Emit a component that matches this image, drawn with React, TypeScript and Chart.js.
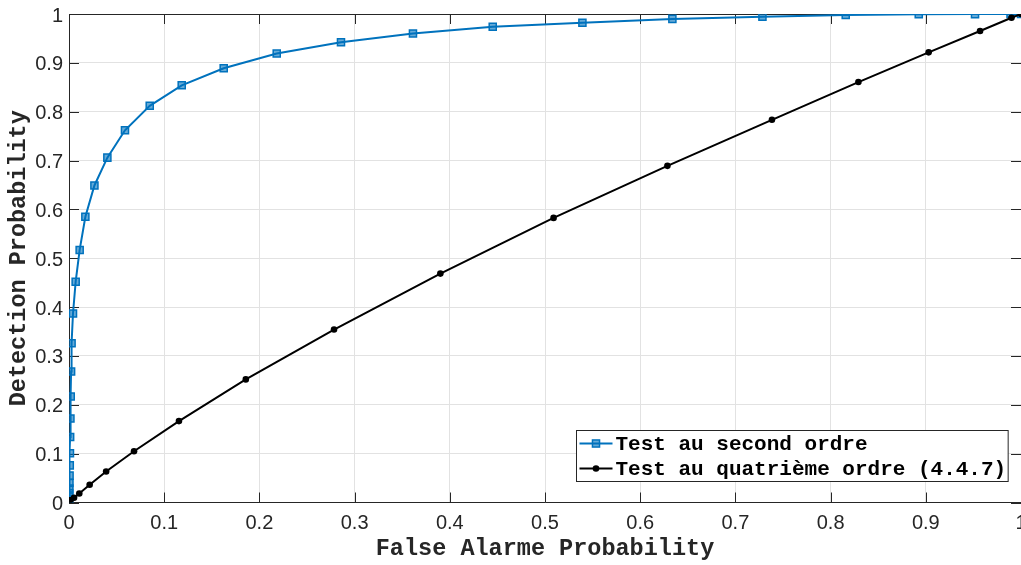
import React, { useEffect, useRef } from 'react';
import { Chart, registerables } from 'chart.js';

Chart.register(...registerables);

// ---- data ----
const secondOrderX = [0, 0.0001, 0.0002, 0.0003, 0.0004, 0.0005, 0.0006, 0.0008, 0.001, 0.0012, 0.0015, 0.0018, 0.0022, 0.0027, 0.0042, 0.007, 0.0112, 0.0172, 0.0267, 0.0403, 0.0588, 0.0848, 0.1184, 0.1625, 0.2182, 0.2857, 0.3613, 0.4451, 0.5393, 0.6338, 0.7284, 0.8159, 0.8926, 0.9517, 0.989, 1.0];
const secondOrderY = [0, 0.006, 0.012, 0.0195, 0.0287, 0.04, 0.055, 0.076, 0.101, 0.134, 0.172, 0.217, 0.268, 0.326, 0.387, 0.452, 0.517, 0.585, 0.649, 0.706, 0.762, 0.812, 0.854, 0.889, 0.919, 0.942, 0.96, 0.974, 0.982, 0.99, 0.9945, 0.998, 0.9994, 0.9998, 1.0, 1.0];

const fourthOrderX = [0, 0.0015, 0.0053, 0.0108, 0.0217, 0.039, 0.0683, 0.1155, 0.1857, 0.2784, 0.3901, 0.509, 0.6286, 0.7384, 0.8292, 0.903, 0.957, 0.99, 1.0];
const fourthOrderY = [0, 0.0047, 0.0096, 0.0184, 0.0363, 0.0635, 0.105, 0.1666, 0.252, 0.354, 0.4686, 0.5826, 0.6891, 0.7834, 0.8607, 0.9215, 0.9652, 0.9924, 1.0];

const seriesNames = ['Test au second ordre', 'Test au quatrième ordre (4.4.7)'];

const xTicks = [0, 0.1, 0.2, 0.3, 0.4, 0.5, 0.6, 0.7, 0.8, 0.9, 1];
const xTickLabels = ['0', '0.1', '0.2', '0.3', '0.4', '0.5', '0.6', '0.7', '0.8', '0.9', '1'];
const yTicks = [0, 0.1, 0.2, 0.3, 0.4, 0.5, 0.6, 0.7, 0.8, 0.9, 1];
const yTickLabels = ['0', '0.1', '0.2', '0.3', '0.4', '0.5', '0.6', '0.7', '0.8', '0.9', '1'];

const xTitle = 'False Alarme Probability';
const yTitle = 'Detection Probability';

// ---- styles ----
const AXIS = '#262626';
const GRID = '#e2e2e2';
const BLUE = '#0072BD';
const TICK_FONT = "'Liberation Sans', Arial, sans-serif";
const MONO_FONT = "'Liberation Mono', 'Courier New', monospace";

const boxPlugin = {
  id: 'matlabBox',
  beforeDatasetsDraw(chart: any) {
    const { ctx, chartArea: a, scales } = chart;
    const al = (v: number) => Math.round(v) + 0.5;
    ctx.save();
    ctx.strokeStyle = AXIS;
    ctx.lineWidth = 1;
    ctx.beginPath();
    // top and right borders
    ctx.moveTo(a.left, al(a.top));
    ctx.lineTo(a.right, al(a.top));
    ctx.moveTo(al(a.right), a.top);
    ctx.lineTo(al(a.right), a.bottom);
    // inward ticks
    const tl = 10;
    for (const v of xTicks) {
      const px = al(scales.x.getPixelForValue(v));
      ctx.moveTo(px, a.bottom);
      ctx.lineTo(px, a.bottom - tl);
      ctx.moveTo(px, a.top);
      ctx.lineTo(px, a.top + tl);
    }
    for (const v of yTicks) {
      const py = al(scales.y.getPixelForValue(v));
      ctx.moveTo(a.left, py);
      ctx.lineTo(a.left + tl, py);
      ctx.moveTo(a.right, py);
      ctx.lineTo(a.right - tl, py);
    }
    ctx.stroke();
    ctx.restore();
  },
};

const legendPlugin = {
  id: 'matlabLegend',
  afterDraw(chart: any) {
    const { ctx, chartArea: a } = chart;
    const ds = chart.data.datasets;
    ctx.save();
    ctx.font = `bold 21px ${MONO_FONT}`;
    const widths = ds.map((d: any) => ctx.measureText(d.label).width);
    const maxW = Math.max(...widths);
    const padL = 3, lineLen = 33, gap = 3, padR = 2;
    const boxW = padL + lineLen + gap + maxW + padR;
    const boxH = 51;
    const right = a.right - 13.5;
    const bottom = a.bottom - 21.5;
    const left = Math.round(right - boxW) + 0.5;
    const top = Math.round(bottom - boxH) + 0.5;
    ctx.fillStyle = '#ffffff';
    ctx.fillRect(left, top, boxW, boxH);
    ctx.strokeStyle = AXIS;
    ctx.lineWidth = 1;
    ctx.strokeRect(left, top, boxW, boxH);
    ds.forEach((d: any, i: number) => {
      const cy = top + 13 + i * 25;
      const x0 = left + padL;
      const x1 = x0 + lineLen;
      ctx.strokeStyle = d.borderColor;
      ctx.lineWidth = d.borderWidth;
      ctx.beginPath();
      ctx.moveTo(x0, cy);
      ctx.lineTo(x1, cy);
      ctx.stroke();
      const cx = (x0 + x1) / 2;
      if (d.pointStyle === 'rect') {
        const s = d.pointRadius * Math.SQRT1_2;
        ctx.fillStyle = d.pointBackgroundColor;
        ctx.fillRect(cx - s, cy - s, 2 * s, 2 * s);
        ctx.lineWidth = d.pointBorderWidth;
        ctx.strokeStyle = d.pointBorderColor;
        ctx.strokeRect(cx - s, cy - s, 2 * s, 2 * s);
      } else {
        ctx.fillStyle = d.pointBackgroundColor;
        ctx.beginPath();
        ctx.arc(cx, cy, d.pointRadius, 0, Math.PI * 2);
        ctx.fill();
      }
      ctx.fillStyle = '#000000';
      ctx.textBaseline = 'middle';
      ctx.textAlign = 'left';
      ctx.fillText(d.label, x1 + gap, cy + 1);
    });
    ctx.restore();
  },
};

export default function App() {
  const canvasRef = useRef<HTMLCanvasElement | null>(null);

  useEffect(() => {
    if (!canvasRef.current) return;
    const chart = new Chart(canvasRef.current, {
      type: 'scatter',
      data: {
        datasets: [
          {
            label: seriesNames[0],
            data: secondOrderX.map((x, i) => ({ x, y: secondOrderY[i] })),
            showLine: true,
            borderColor: BLUE,
            borderWidth: 2,
            pointStyle: 'rect',
            pointRadius: 5,
            pointBorderColor: BLUE,
            pointBackgroundColor: 'rgba(0,114,189,0.6)',
            pointBorderWidth: 1.5,
            order: 1,
          },
          {
            label: seriesNames[1],
            data: fourthOrderX.map((x, i) => ({ x, y: fourthOrderY[i] })),
            showLine: true,
            borderColor: '#000000',
            borderWidth: 2,
            pointStyle: 'circle',
            pointRadius: 3.3,
            pointBorderColor: '#000000',
            pointBackgroundColor: '#000000',
            pointBorderWidth: 0,
            order: 0,
          },
        ] as any,
      },
      options: {
        animation: false,
        responsive: false,
        maintainAspectRatio: false,
        layout: { padding: { left: 0, top: 14, right: 20, bottom: 0 } },
        plugins: { legend: { display: false }, tooltip: { enabled: false } },
        scales: {
          x: {
            type: 'linear',
            min: 0,
            max: 1,
            afterBuildTicks: (s: any) => {
              s.ticks = xTicks.map((v) => ({ value: v }));
            },
            afterFit: (s: any) => {
              s.height = 62.5;
              s.paddingLeft = 0;
              s.paddingRight = 0;
            },
            grid: { color: GRID, lineWidth: 1, drawTicks: false },
            border: { display: true, color: AXIS, width: 1 },
            ticks: {
              padding: 9,
              color: AXIS,
              autoSkip: false,
              maxRotation: 0,
              font: { family: TICK_FONT, size: 20 },
              callback: (_v: any, i: number) => xTickLabels[i],
            },
            title: {
              display: true,
              text: xTitle,
              color: AXIS,
              font: { family: MONO_FONT, size: 23.5, weight: 'bold' },
              padding: { top: 0, bottom: 2 },
            },
          },
          y: {
            type: 'linear',
            min: 0,
            max: 1,
            afterBuildTicks: (s: any) => {
              s.ticks = yTicks.map((v) => ({ value: v }));
            },
            afterFit: (s: any) => {
              s.width = 69;
              s.paddingTop = 0;
              s.paddingBottom = 0;
            },
            grid: { color: GRID, lineWidth: 1, drawTicks: false },
            border: { display: true, color: AXIS, width: 1 },
            ticks: {
              padding: 6,
              color: AXIS,
              autoSkip: false,
              labelOffset: 2,
              font: { family: TICK_FONT, size: 20 },
              callback: (_v: any, i: number) => yTickLabels[i],
            },
            title: {
              display: true,
              text: yTitle,
              color: AXIS,
              font: { family: MONO_FONT, size: 23.5, weight: 'bold' },
              padding: { top: 4.5, bottom: 0 },
            },
          },
        },
      } as any,
      plugins: [boxPlugin, legendPlugin],
    });
    return () => chart.destroy();
  }, []);

  return (
    <div
      style={{
        position: 'fixed',
        left: 0,
        top: 0,
        width: 1021,
        height: 565,
        overflow: 'hidden',
        background: '#ffffff',
      }}
    >
      <canvas ref={canvasRef} width={1041} height={565} style={{ display: 'block' }} />
    </div>
  );
}
